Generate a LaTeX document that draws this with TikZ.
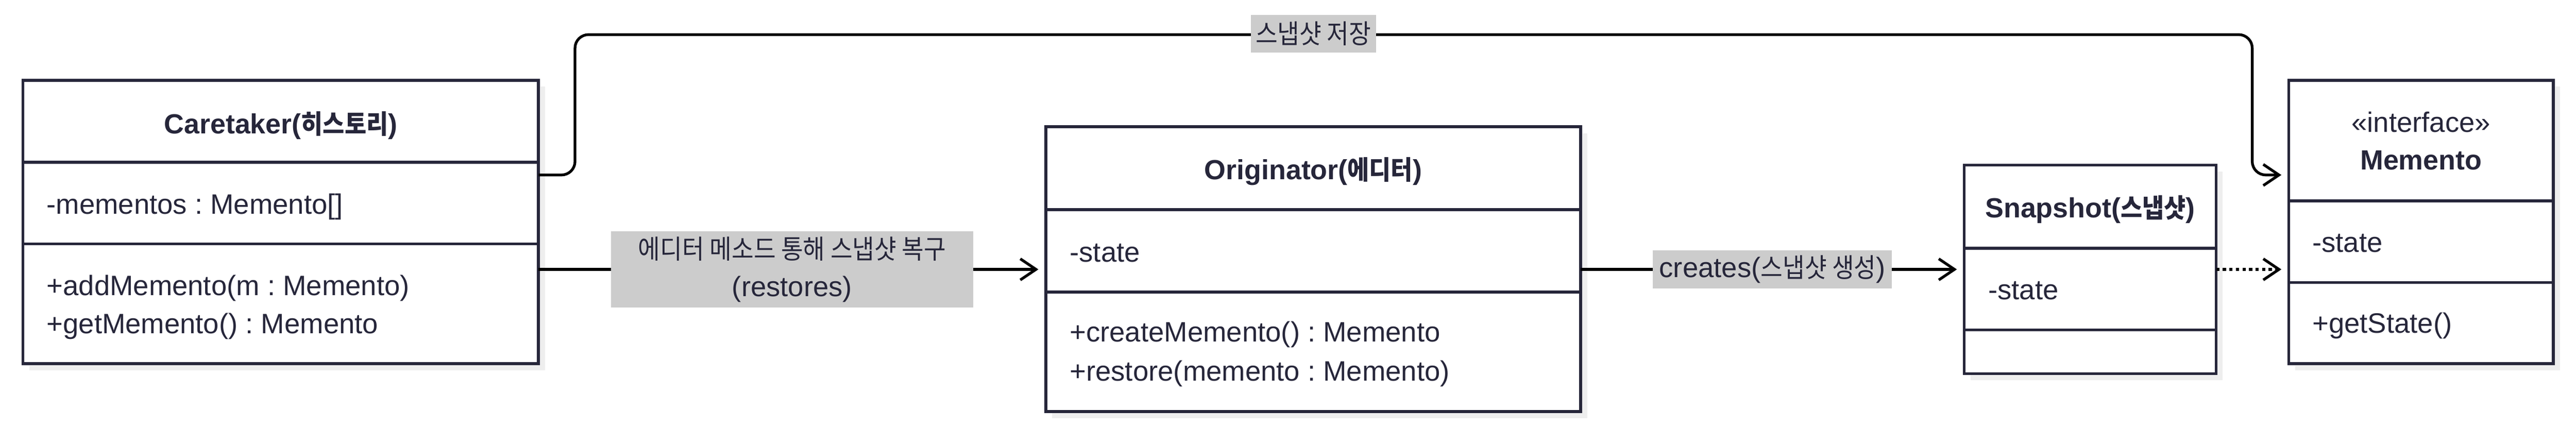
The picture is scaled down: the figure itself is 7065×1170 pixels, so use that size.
\documentclass[tikz,border=0pt]{standalone}
\usepackage{fontspec}
\setmainfont{Liberation Sans}
\newfontfamily\kr[FakeStretch=0.9, Scale=0.947]{Noto Sans CJK KR}
\newcommand\hg[1]{{\kr #1}}
\frenchspacing
\usetikzlibrary{arrows.meta,shadows,calc}
\definecolor{navy}{RGB}{38,38,58}
\definecolor{shadowc}{RGB}{238,238,238}
\definecolor{lblgray}{RGB}{204,204,204}
\tikzset{
  cls/.style={draw=navy, line width=1.6pt, fill=white, inner sep=0pt, outer sep=0pt,
    drop shadow={shadow xshift=3.6pt, shadow yshift=-3.6pt, fill=shadowc, opacity=1}},
  divline/.style={draw=navy, line width=1.6pt},
  txt/.style={text=navy, font=\fontsize{15.4}{18}\selectfont, inner sep=0pt, anchor=base west},
  ttl/.style={text=navy, font=\fontsize{15.2}{18}\selectfont\bfseries, inner sep=0pt, anchor=base},
  conn/.style={draw=black, line width=1.5pt},
  tipped/.style={conn, -{Straight Barb[length=8.6pt, width=11.6pt]}, shorten >=4pt},
  dotconn/.style={tipped, dash pattern=on 1.8pt off 1.8pt},
  lbl/.style={fill=lblgray, text=navy, font=\fontsize{15.4}{20.6}\selectfont, inner sep=0pt, align=center}
}
\begin{document}
\begin{tikzpicture}[x=0.2pt,y=-0.2pt]
\fill[white] (0,0) rectangle (7065,1170);
\useasboundingbox (0,0) rectangle (7065,1170);
\coordinate (yTop) at (0,480);
\coordinate (yMain) at (0,739);
\coordinate (rA) at (1577,95);
\coordinate (rB) at (6177,95);

% Caretaker
\node[cls, minimum width=282.8pt, minimum height=155.6pt] (caretaker) at (770,609) {};
\draw[divline] (caretaker.west |- 0,445) -- (caretaker.east |- 0,445);
\draw[divline] (caretaker.west |- 0,669) -- (caretaker.east |- 0,669);
\node[ttl] (caretakerT) at (770,366) {Caretaker(\hg{히스토리})};
\node[txt] (caretakerA) at (127,587) {-mementos : Memento[]};
\node[txt] (caretakerM1) at (127,811) {+addMemento(m : Memento)};
\node[txt] (caretakerM2) at (127,915) {+getMemento() : Memento};

% Originator
\node[cls, minimum width=293.4pt, minimum height=156.2pt] (originator) at (3601.5,738.5) {};
\draw[divline] (originator.west |- 0,575) -- (originator.east |- 0,575);
\draw[divline] (originator.west |- 0,801) -- (originator.east |- 0,801);
\node[ttl] (originatorT) at (3601.5,493) {Originator(\hg{에디터})};
\node[txt] (originatorA) at (2933,718) {-state};
\node[txt] (originatorM1) at (2933,938) {+createMemento() : Memento};
\node[txt] (originatorM2) at (2933,1045) {+restore(memento : Memento)};

% Snapshot
\node[cls, minimum width=138.2pt, minimum height=114.4pt] (snapshot) at (5732.5,739) {};
\draw[divline] (snapshot.west |- 0,681) -- (snapshot.east |- 0,681);
\draw[divline] (snapshot.west |- 0,905) -- (snapshot.east |- 0,905);
\node[ttl] (snapshotT) at (5732.5,597) {Snapshot(\hg{스냅샷})};
\node[txt] (snapshotA) at (5452,821) {-state};

% Memento
\node[cls, minimum width=145.2pt, minimum height=155.6pt] (memento) at (6640,609) {};
\draw[divline] (memento.west |- 0,551) -- (memento.east |- 0,551);
\draw[divline] (memento.west |- 0,775) -- (memento.east |- 0,775);
\node[txt, anchor=base] (mementoS) at (6640,362) {«interface»};
\node[ttl] (mementoT) at (6640,466) {Memento};
\node[txt] (mementoA) at (6341,692) {-state};
\node[txt] (mementoM) at (6341,914) {+getState()};

% Connectors
\draw[tipped, rounded corners=7.4pt] (caretaker.east |- yTop) -| (rA) -- (rB) |- (memento.west |- yTop);
\node[lbl, minimum width=68.6pt, minimum height=20.6pt] (saveLbl) at (3602,92) {\hg{스냅샷 저장}};

\draw[tipped] (caretaker.east |- yMain) -- node[lbl, minimum width=198.8pt, minimum height=41.8pt] (restoreLbl) {\hg{에디터 메소드 통해 스냅샷 복구}\\(restores)} (originator.west |- yMain);

\draw[tipped] (originator.east |- yMain) -- node[lbl, minimum width=131.2pt, minimum height=21pt] (createLbl) {creates(\hg{스냅샷 생성})} (snapshot.west |- yMain);

\draw[dotconn] (snapshot.east |- yMain) -- (memento.west |- yMain);
\end{tikzpicture}
\end{document}
